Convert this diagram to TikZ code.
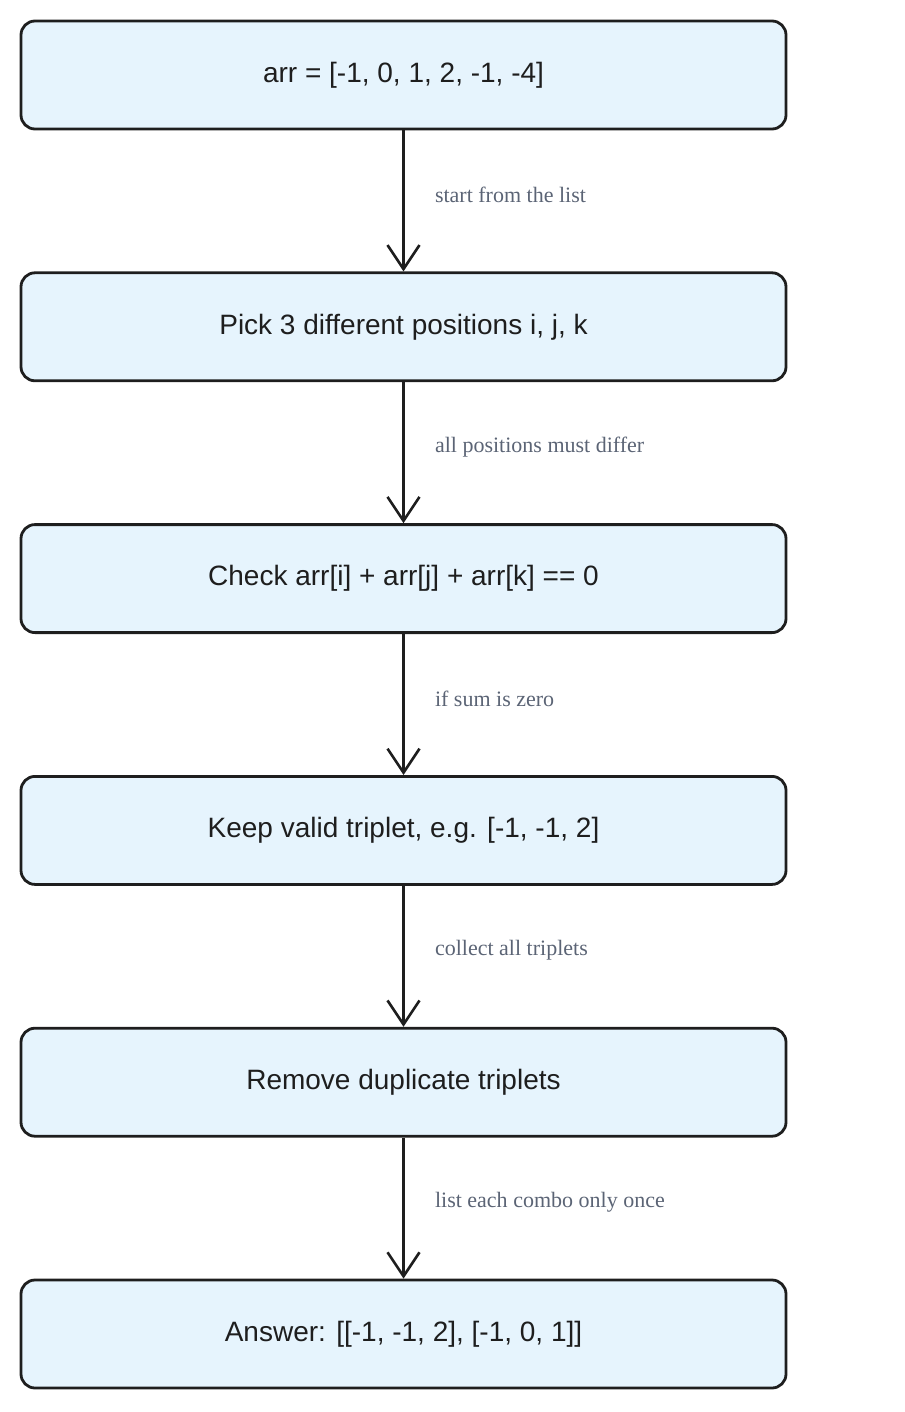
\documentclass[tikz,border=0pt]{standalone}
\usepackage{fontspec}
\setmainfont{Liberation Serif}
\setsansfont{Liberation Sans}
\usetikzlibrary{positioning,arrows.meta,calc}
\definecolor{boxfill}{HTML}{E6F4FD}
\definecolor{ink}{HTML}{1E1E1E}
\definecolor{notegray}{HTML}{5B6475}
\tikzset{
    stage/.style={draw=ink, line width=2.8pt, fill=boxfill, rounded corners=14pt,
        minimum width=765pt, minimum height=108pt, font=\sffamily\fontsize{28}{32}\selectfont, text=ink},
    flow/.style={draw=ink, line width=3.2pt, -{Straight Barb[length=24pt,width=32pt,line width=2.6pt]}},
    note/.style={right, font=\fontsize{22}{26}\selectfont, text=notegray}
}
\begin{document}
\begin{tikzpicture}[node distance=141pt]
\useasboundingbox (0pt,0pt) rectangle (904pt,-1412pt);
\node[stage] (list) at (403.5pt,-75pt) {arr = [-1, 0, 1, 2, -1, -4]};
\node[stage, below=of list] (pick) {Pick 3 different positions i, j, k};
\node[stage, below=of pick] (check) {Check arr[i] + arr[j] + arr[k] == 0};
\node[stage, below=of check] (keep) {Keep valid triplet, e.g. [-1, -1, 2]};
\node[stage, below=of keep] (dedup) {Remove duplicate triplets};
\node[stage, below=of dedup] (answer) {Answer: [[-1, -1, 2], [-1, 0, 1]]};
% connectors with their notes
\foreach \a/\b/\txt in {list/pick/start from the list,
                        pick/check/all positions must differ,
                        check/keep/if sum is zero,
                        keep/dedup/collect all triplets,
                        dedup/answer/list each combo only once} {
    \draw[flow] (\a.south) -- (\b.north);
    \node[note] (n-\a) at ([xshift=28pt,yshift=6pt]$(\a.south)!0.5!(\b.north)$) {\txt};
}
\end{tikzpicture}
\end{document}
